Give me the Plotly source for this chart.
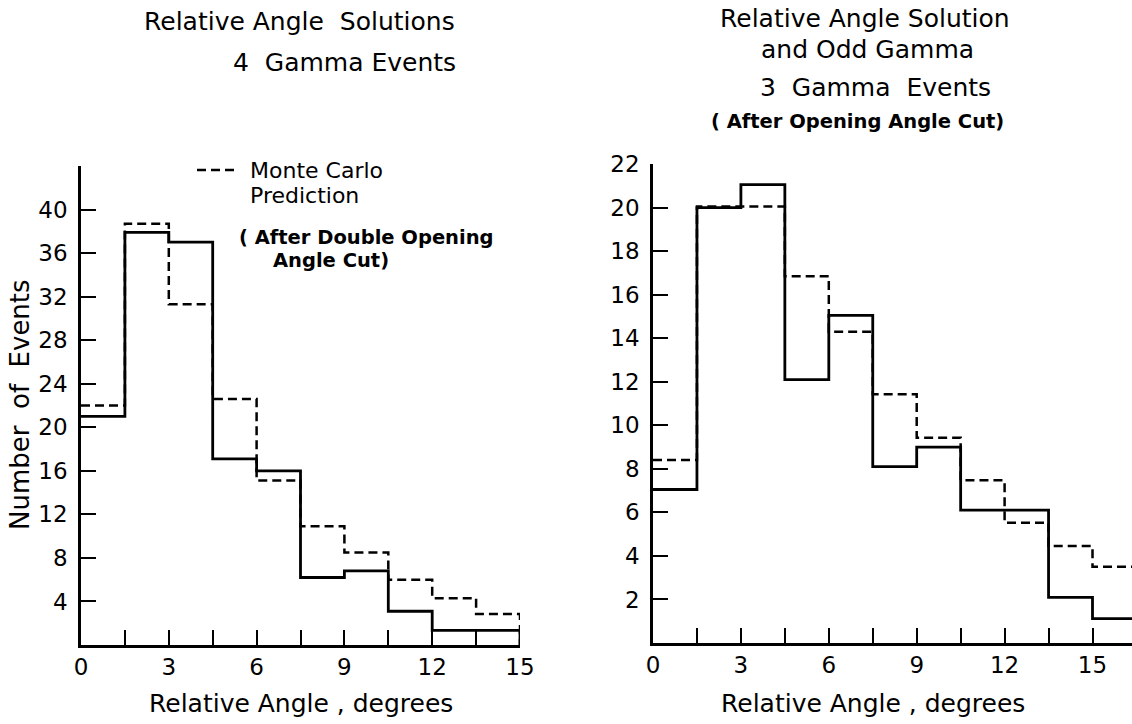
import plotly.graph_objects as go

# Bin edges (degrees), 1.5-degree bins
edges_left = [0, 1.5, 3, 4.5, 6, 7.5, 9, 10.5, 12, 13.5, 15]
edges_right = [0, 1.5, 3, 4.5, 6, 7.5, 9, 10.5, 12, 13.5, 15, 16.5]

# 4 gamma events: data and Monte Carlo prediction
data_4g = [21, 37.9, 37, 17.1, 16, 6.2, 6.8, 3.1, 1.35, 1.35]
mc_4g = [22, 38.7, 31.3, 22.6, 15.1, 10.9, 8.5, 6.0, 4.3, 2.85]

# 3 gamma events: data and Monte Carlo prediction
data_3g = [7.05, 20, 21.05, 12.1, 15.05, 8.1, 9.0, 6.1, 6.1, 2.1, 1.12]
mc_3g = [8.4, 20.05, 20.05, 16.85, 14.3, 11.43, 9.43, 7.47, 5.52, 4.45, 3.5]

left_yticks = [4, 8, 12, 16, 20, 24, 28, 32, 36, 40, 44]
right_yticks = [2, 4, 6, 8, 10, 12, 14, 16, 18, 20, 22]

FONT = "DejaVu Sans"
W, H = 1132, 724
DASH = "9px,5px"


def step(edges, vals, close=True):
    xs = list(edges[: len(vals) + 1])
    ys = list(vals) + [vals[-1]]
    if close:
        xs.append(edges[len(vals)])
        ys.append(0)
    return xs, ys


def px(x):
    return x / W


def py(y):
    return 1 - y / H


fig = go.Figure()

x, y = step(edges_left, mc_4g)
fig.add_trace(go.Scatter(x=x, y=y, mode="lines", line_shape="hv",
                         line=dict(color="black", width=2.5, dash=DASH),
                         name="Monte Carlo Prediction",
                         xaxis="x", yaxis="y"))
x, y = step(edges_left, data_4g)
fig.add_trace(go.Scatter(x=x, y=y, mode="lines", line_shape="hv",
                         line=dict(color="black", width=2.8),
                         name="Data", xaxis="x", yaxis="y"))

x, y = step(edges_right, mc_3g, close=False)
fig.add_trace(go.Scatter(x=x, y=y, mode="lines", line_shape="hv",
                         line=dict(color="black", width=2.5, dash=DASH),
                         name="Monte Carlo Prediction",
                         xaxis="x2", yaxis="y2"))
x, y = step(edges_right, data_3g, close=False)
fig.add_trace(go.Scatter(x=x, y=y, mode="lines", line_shape="hv",
                         line=dict(color="black", width=2.8),
                         name="Data", xaxis="x2", yaxis="y2"))


def xticks(edges, upto):
    vals = [e for e in edges if e <= upto]
    text = [str(int(v)) if v % 3 == 0 else "" for v in vals]
    return vals, text


xv_l, xt_l = xticks(edges_left, 15)
xv_r, xt_r = xticks(edges_right, 16.5)

common_axis = dict(showline=True, linecolor="black", linewidth=2.5,
                   showgrid=False, zeroline=False, ticks="inside",
                   ticklen=15, tickwidth=2, tickcolor="black",
                   tickfont=dict(family=FONT, size=23, color="black"),
                   fixedrange=True, automargin=False)

fig.update_layout(
    width=W, height=H,
    margin=dict(l=0, r=0, t=0, b=0, pad=0),
    paper_bgcolor="white", plot_bgcolor="white",
    font=dict(family=FONT, color="black"),
    showlegend=False,
    xaxis=dict(domain=[px(81), px(520)], range=[0, 15], anchor="y",
               tickmode="array", tickvals=xv_l, ticktext=xt_l, **common_axis),
    yaxis=dict(domain=[py(645), py(166)], range=[0, 44], anchor="x",
               tickmode="array", tickvals=left_yticks,
               ticktext=[str(v) if v < 44 else "" for v in left_yticks],
               ticklabelstandoff=6, **common_axis),
    xaxis2=dict(domain=[px(653), 1.0], range=[0, (W - 653) / 29.3], anchor="y2",
                tickmode="array", tickvals=xv_r, ticktext=xt_r, **common_axis),
    yaxis2=dict(domain=[py(643), py(164)], range=[0, 22], anchor="x2",
                tickmode="array", tickvals=right_yticks,
                ticktext=[str(v) for v in right_yticks],
                ticklabelstandoff=6, **common_axis),
)


def note(text, x, y, size=24, bold=False, angle=0, xref="paper", anchor="center"):
    t = f"<b>{text}</b>" if bold else text
    fig.add_annotation(text=t, x=x, y=y, xref=xref, yref="paper",
                       xanchor=anchor, yanchor="middle", showarrow=False,
                       textangle=angle,
                       font=dict(family=FONT, size=size, color="black"))


# Panel headings
note("Relative Angle  Solutions", px(299), py(22), size=25)
note("4  Gamma Events", px(344), py(62), size=25)
note("Relative Angle Solution", px(865), py(19), size=25)
note("and Odd Gamma", px(867), py(49), size=25)
note("3  Gamma  Events", px(876), py(87), size=25)
note("( After Opening Angle Cut)", px(858), py(122), size=19.5, bold=True)

# Key for the dashed Monte Carlo histogram
fig.add_shape(type="line", xref="paper", yref="paper",
              x0=px(197), x1=px(236), y0=py(170), y1=py(170),
              line=dict(color="black", width=2.5, dash=DASH))
note("Monte Carlo", px(248), py(170), size=22, anchor="left")
note("Prediction", px(248), py(196), size=22, anchor="left")

# Cut annotation on the left panel
note("( After Double Opening", px(366), py(237), size=19.5, bold=True)
note("Angle Cut)", px(331), py(260), size=19.5, bold=True)

# Axis titles
note("Relative Angle , degrees", 7.5, py(703), size=25, xref="x")
note("Relative Angle , degrees", 7.5, py(703), size=25, xref="x2")
note("Number  of  Events", px(20), py(405), size=26, angle=-90)

fig.write_html("out.html")
